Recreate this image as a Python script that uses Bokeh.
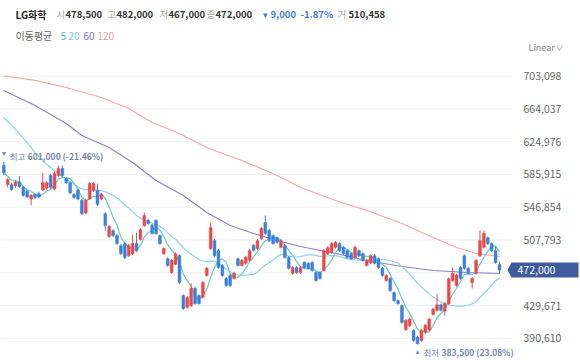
import pandas as pd
from bokeh.plotting import figure
from bokeh.models import ColumnDataSource, FixedTicker, Label, PolyAnnotation, Range1d, LinearAxis
from bokeh.embed import file_html
from bokeh.resources import INLINE
from bokeh.core.properties import value

FONT = "Noto Sans CJK KR"

# ---- data (KRW) ----
opens = [597000, 574000, 574000, 572500, 577000, 570500, 566000, 556500, 562000, 563000,
         567500, 569500, 584500, 568500, 584500, 593000, 581000, 576000, 562000, 567000,
         555000, 540000, 557000, 566500, 567000, 556500, 539000, 512000, 519000, 513000,
         501000, 503500, 489000, 491500, 503500, 508500, 525000, 531000, 525000, 531000,
         513000, 491500, 485500, 469000, 479000, 489000, 441500, 427500, 429500, 450000,
         441500, 439500, 465500, 497500, 507000, 495000, 477500, 462000, 465500, 462000,
         485500, 477500, 480000, 483500, 501500, 497500, 509500, 528500, 519000, 513000,
         510500, 499000, 501000, 487000, 468000, 475000, 469000, 481000, 480000, 481000,
         469000, 469000, 471500, 491500, 493000, 499000, 503500, 499000, 495000, 491500,
         487000, 495000, 491500, 477500, 480500, 489000, 485500, 474000, 459500, 462000,
         445000, 435500, 429500, 401000, 405500, 400000, 392000, 388000, 397500, 400500,
         419000, 424000, 430500, 423000, 432000, 459500, 453500, 475000, 489000, 474000,
         457000, 468000, 489000, 499000, 510500, 503500, 495000, 478500]
highs = [601000, 581500, 576000, 578500, 584000, 572000, 567500, 562500, 563500, 565500,
         587500, 578000, 586500, 589500, 596500, 596500, 582500, 577500, 563500, 569500,
         557000, 557000, 577000, 577000, 575000, 564000, 541000, 525500, 520500, 515000,
         503000, 505000, 503000, 514000, 516500, 522000, 540500, 533000, 527000, 532500,
         514500, 499000, 487000, 485000, 493000, 491000, 443000, 441000, 456000, 452000,
         443000, 459000, 475500, 528500, 509000, 497000, 479000, 463500, 467000, 470000,
         487000, 485000, 489000, 497000, 503000, 509000, 523000, 537000, 521000, 514500,
         512000, 509000, 503000, 488500, 476500, 476500, 476500, 482500, 481500, 483000,
         470500, 470500, 497000, 500500, 505000, 506500, 505000, 500500, 496500, 493000,
         501000, 496500, 493000, 485000, 490500, 491000, 487000, 475500, 467000, 463500,
         446500, 437000, 431000, 413500, 415000, 401500, 393500, 401500, 407500, 415000,
         427000, 443000, 432000, 434000, 463000, 475000, 467500, 476500, 490500, 475500,
         463500, 485000, 519000, 519000, 512000, 505000, 500500, 482000]
lows = [585000, 570500, 566500, 570000, 570000, 559500, 557500, 549000, 557000, 557500,
        566000, 567500, 569000, 567000, 583000, 583000, 574500, 562500, 557000, 555000,
        537500, 538500, 555500, 565000, 548500, 555000, 519000, 510500, 511500, 502000,
        490000, 485000, 487500, 490000, 493500, 507000, 523500, 526000, 514000, 514000,
        502000, 490000, 476000, 467500, 477500, 455000, 424500, 426000, 428000, 430500,
        430500, 438000, 464000, 496000, 487500, 473500, 464000, 452000, 452000, 460500,
        476000, 476000, 478500, 482000, 494000, 496000, 508000, 514000, 505500, 502000,
        503500, 497500, 485500, 472500, 466500, 467500, 467500, 473500, 472500, 470000,
        458000, 460500, 470000, 490000, 491500, 497500, 493500, 490000, 485500, 484000,
        485500, 487500, 482000, 476000, 479000, 478500, 473500, 464000, 458000, 446000,
        434000, 430500, 408000, 399500, 404000, 386500, 383500, 386500, 396000, 399000,
        417500, 422500, 422500, 417500, 430500, 458000, 452000, 460500, 472500, 466500,
        450000, 466500, 487500, 497500, 502000, 493500, 479500, 467000]
closes = [588000, 580000, 568000, 577000, 571500, 561000, 559000, 561000, 558500, 559000,
          576000, 576000, 570500, 587000, 593000, 584500, 576000, 564000, 558500, 556500,
          539000, 555000, 575000, 575000, 550000, 562000, 525000, 524000, 513000, 503500,
          491500, 487000, 501000, 503500, 495000, 520000, 537000, 527500, 515500, 515500,
          503500, 497500, 477500, 483500, 491000, 457000, 426000, 439000, 450000, 432000,
          432000, 457000, 474000, 522500, 489000, 475000, 465500, 453500, 453500, 468000,
          477500, 483500, 487000, 495000, 495500, 507000, 521500, 515500, 507000, 503500,
          505000, 507000, 487000, 474000, 475000, 469000, 475000, 475000, 474000, 471500,
          459500, 462000, 495000, 498500, 503500, 505000, 495000, 491500, 487000, 485500,
          499000, 489000, 483500, 483500, 489000, 480000, 475000, 465500, 465500, 447500,
          435500, 432000, 409500, 412000, 413500, 388000, 384000, 400000, 406000, 413500,
          425500, 430500, 424000, 432000, 461500, 468000, 466000, 462000, 474000, 468000,
          462000, 483500, 507000, 515500, 503500, 495000, 481000, 472000]
idx = list(range(1, len(closes) + 1))

# MA20 for the first 19 sessions (earlier history not shown)
ma20_head = [653800, 649000, 644300, 639500, 634700, 628800, 624000, 618000, 612000, 607300,
             602500, 597800, 594200, 590600, 587000, 583500, 579900, 577500, 573900]
# MA60 / MA120 at these sessions
ma60_x = [1, 9, 17, 21, 28, 34, 40, 47, 53, 59, 65, 71, 77, 86, 94, 103, 111, 120, 128]
ma60_v = [686000, 668100, 646600, 632300, 618000, 600100, 578700, 560800, 540500, 525000,
          515500, 507200, 500000, 491700, 483300, 476200, 471400, 469000, 467800]
ma120_x = [1, 9, 17, 26, 33, 39, 46, 53, 62, 70, 77, 86, 94, 103, 111, 117, 122, 128]
ma120_v = [703500, 698000, 689500, 677600, 664500, 647800, 634700, 618000, 602500, 587000,
           570300, 554800, 543000, 527400, 510700, 498800, 491700, 488100]

y_ticks = [390610, 429671, 468732, 507793, 546854, 585915, 624976, 664037, 703098]

header = [("LG화학", 15, "#222222", True, "10px"),
          ("시", 56, "#a8a8a8", False, "9.5px"), ("478,500", 65, "#333333", True, "9.5px"),
          ("고", 107, "#a8a8a8", False, "9.5px"), ("482,000", 116, "#333333", True, "9.5px"),
          ("저", 159, "#a8a8a8", False, "9.5px"), ("467,000", 168, "#333333", True, "9.5px"),
          ("종", 206, "#a8a8a8", False, "9.5px"), ("472,000", 215, "#333333", True, "9.5px"),
          ("▾", 262, "#3b7ddd", False, "9px"), ("9,000", 270, "#3b7ddd", True, "9.5px"),
          ("-1.87%", 300, "#3b7ddd", True, "9.5px"),
          ("거", 337, "#a8a8a8", False, "9.5px"), ("510,458", 348, "#333333", True, "9.5px")]
legend = [("이동평균", 15, "#666666"), ("5", 60, "#4fc0bd"), ("20", 68, "#7cc6e6"),
          ("60", 83, "#7f72d2"), ("120", 97, "#ef9ea4")]

UP, DOWN = "#e8494a", "#3a7fd8"

# ---- derived ----
s = pd.Series(closes, dtype=float)
ma5 = s.rolling(5, min_periods=1).mean().tolist()
ma20 = s.rolling(20).mean().tolist()
ma20[:19] = ma20_head

src = ColumnDataSource(dict(
    x=idx, o=opens, h=highs, l=lows, c=closes,
    top=[max(a, b) for a, b in zip(opens, closes)],
    bottom=[min(a, b) for a, b in zip(opens, closes)],
    color=[UP if c >= o else DOWN for o, c in zip(opens, closes)],
))

W, HGT = 580, 360
PX = 3.9031                       # pixels per session
X0 = 1 - 3.3 / PX                 # left edge of canvas in session units
X1 = X0 + W / PX
XAX = X0 + 512 / PX               # where the price axis sits
VPP = 1192                        # won per pixel
VTOP = 472000 + 269.5 * VPP
VBOT = VTOP - HGT * VPP

p = figure(width=W, height=HGT, output_backend="svg", toolbar_location=None,
           x_axis_location=None, y_axis_location=None,
           x_range=Range1d(X0, X1), y_range=Range1d(VBOT, VTOP),
           min_border=0, outline_line_color=None,
           background_fill_color="white", border_fill_color="white")
p.xgrid.visible = False
p.ygrid.visible = False

ax = LinearAxis(ticker=FixedTicker(ticks=y_ticks), fixed_location=XAX)
ax.major_label_overrides = {t: ("" if t == 468732 else f"{t:,}") for t in y_ticks}
ax.axis_line_color = None
ax.major_tick_line_color = None
ax.minor_tick_line_color = None
ax.major_label_standoff = 5
ax.major_label_text_font = FONT
ax.major_label_text_font_size = "10.5px"
ax.major_label_text_color = "#666666"
p.add_layout(ax, "right")

# horizontal grid lines (end at the price axis)
p.segment(x0=[X0] * len(y_ticks), y0=y_ticks, x1=[XAX] * len(y_ticks), y1=y_ticks,
          line_color="#f0f0f0", line_width=1)

# moving averages
p.line(ma120_x, ma120_v, color="#f2aaaa", line_width=1.2)
p.line(ma60_x, ma60_v, color="#8a7fd6", line_width=1.2)
p.line(idx, ma20, color="#8fd3ea", line_width=1.2)
p.line(idx, ma5, color="#62ccc8", line_width=1.2)

# candles
p.segment(x0="x", y0="h", x1="x", y1="l", color="color", line_width=1, source=src)
p.vbar(x="x", width=0.72, top="top", bottom="bottom", fill_color="color",
       line_color="color", line_width=0.5, source=src)

# high / low markers
hi_i = highs.index(max(highs)) + 1
lo_i = lows.index(min(lows)) + 1
last = closes[-1]
lab = "#7585b0"
p.text([hi_i], [max(highs)], text=["▾"], text_color=lab, text_font_size="8px",
       text_align="center", text_baseline="middle", y_offset=-8)
p.text([hi_i], [max(highs)], text=["최고"], text_color=lab, text_font=value(FONT),
       text_font_size="8.5px", text_baseline="middle", x_offset=6, y_offset=-6)
p.text([hi_i], [max(highs)], text=[f"{max(highs):,} ({(last / max(highs) - 1) * 100:.2f}%)"],
       text_color=lab, text_font=value(FONT), text_font_size="8.5px", text_font_style="bold",
       text_baseline="middle", x_offset=24, y_offset=-6)
p.text([lo_i], [min(lows)], text=["▲"], text_color=lab, text_font_size="6px",
       text_align="center", text_baseline="middle", y_offset=8)
p.text([lo_i], [min(lows)], text=["최저"], text_color=lab, text_font=value(FONT),
       text_font_size="8.5px", text_baseline="middle", x_offset=6, y_offset=8)
p.text([lo_i], [min(lows)], text=[f"{min(lows):,} ({(last / min(lows) - 1) * 100:.2f}%)"],
       text_color=lab, text_font=value(FONT), text_font_size="8.5px", text_font_style="bold",
       text_baseline="middle", x_offset=24, y_offset=8)

# last price tag
TH = 7.5 * VPP
p.add_layout(PolyAnnotation(xs=[507, 511, 578, 578, 511],
                            ys=[last, last + TH, last + TH, last - TH, last - TH],
                            xs_units="screen", ys_units="data",
                            fill_color="#3e5b9c", fill_alpha=1, line_color=None))
p.add_layout(Label(x=517, y=last, x_units="screen", y_units="data", text=f"{last:,}",
                   text_color="white", text_font=FONT, text_font_size="10.5px", text_baseline="middle"))

# header texts (screen px, origin bottom-left)
def hdr(text, sx, sy, color, bold=False, size="10px"):
    p.add_layout(Label(x=sx, y=HGT - sy, x_units="screen", y_units="screen", text=text,
                       text_color=color, text_font=FONT, text_font_size=size,
                       text_font_style="bold" if bold else "normal", text_baseline="middle"))

for t, sx, col, b, sz in header:
    hdr(t, sx, 13.5, col, b, sz)
for t, sx, col in legend:
    hdr(t, sx, 35, col, False, "10px")
hdr("Linear", 528, 47, "#888888", False, "9px")
hdr("∨", 555, 47, "#999999", False, "8px")

open("out.html", "w").write(file_html(p, INLINE))
